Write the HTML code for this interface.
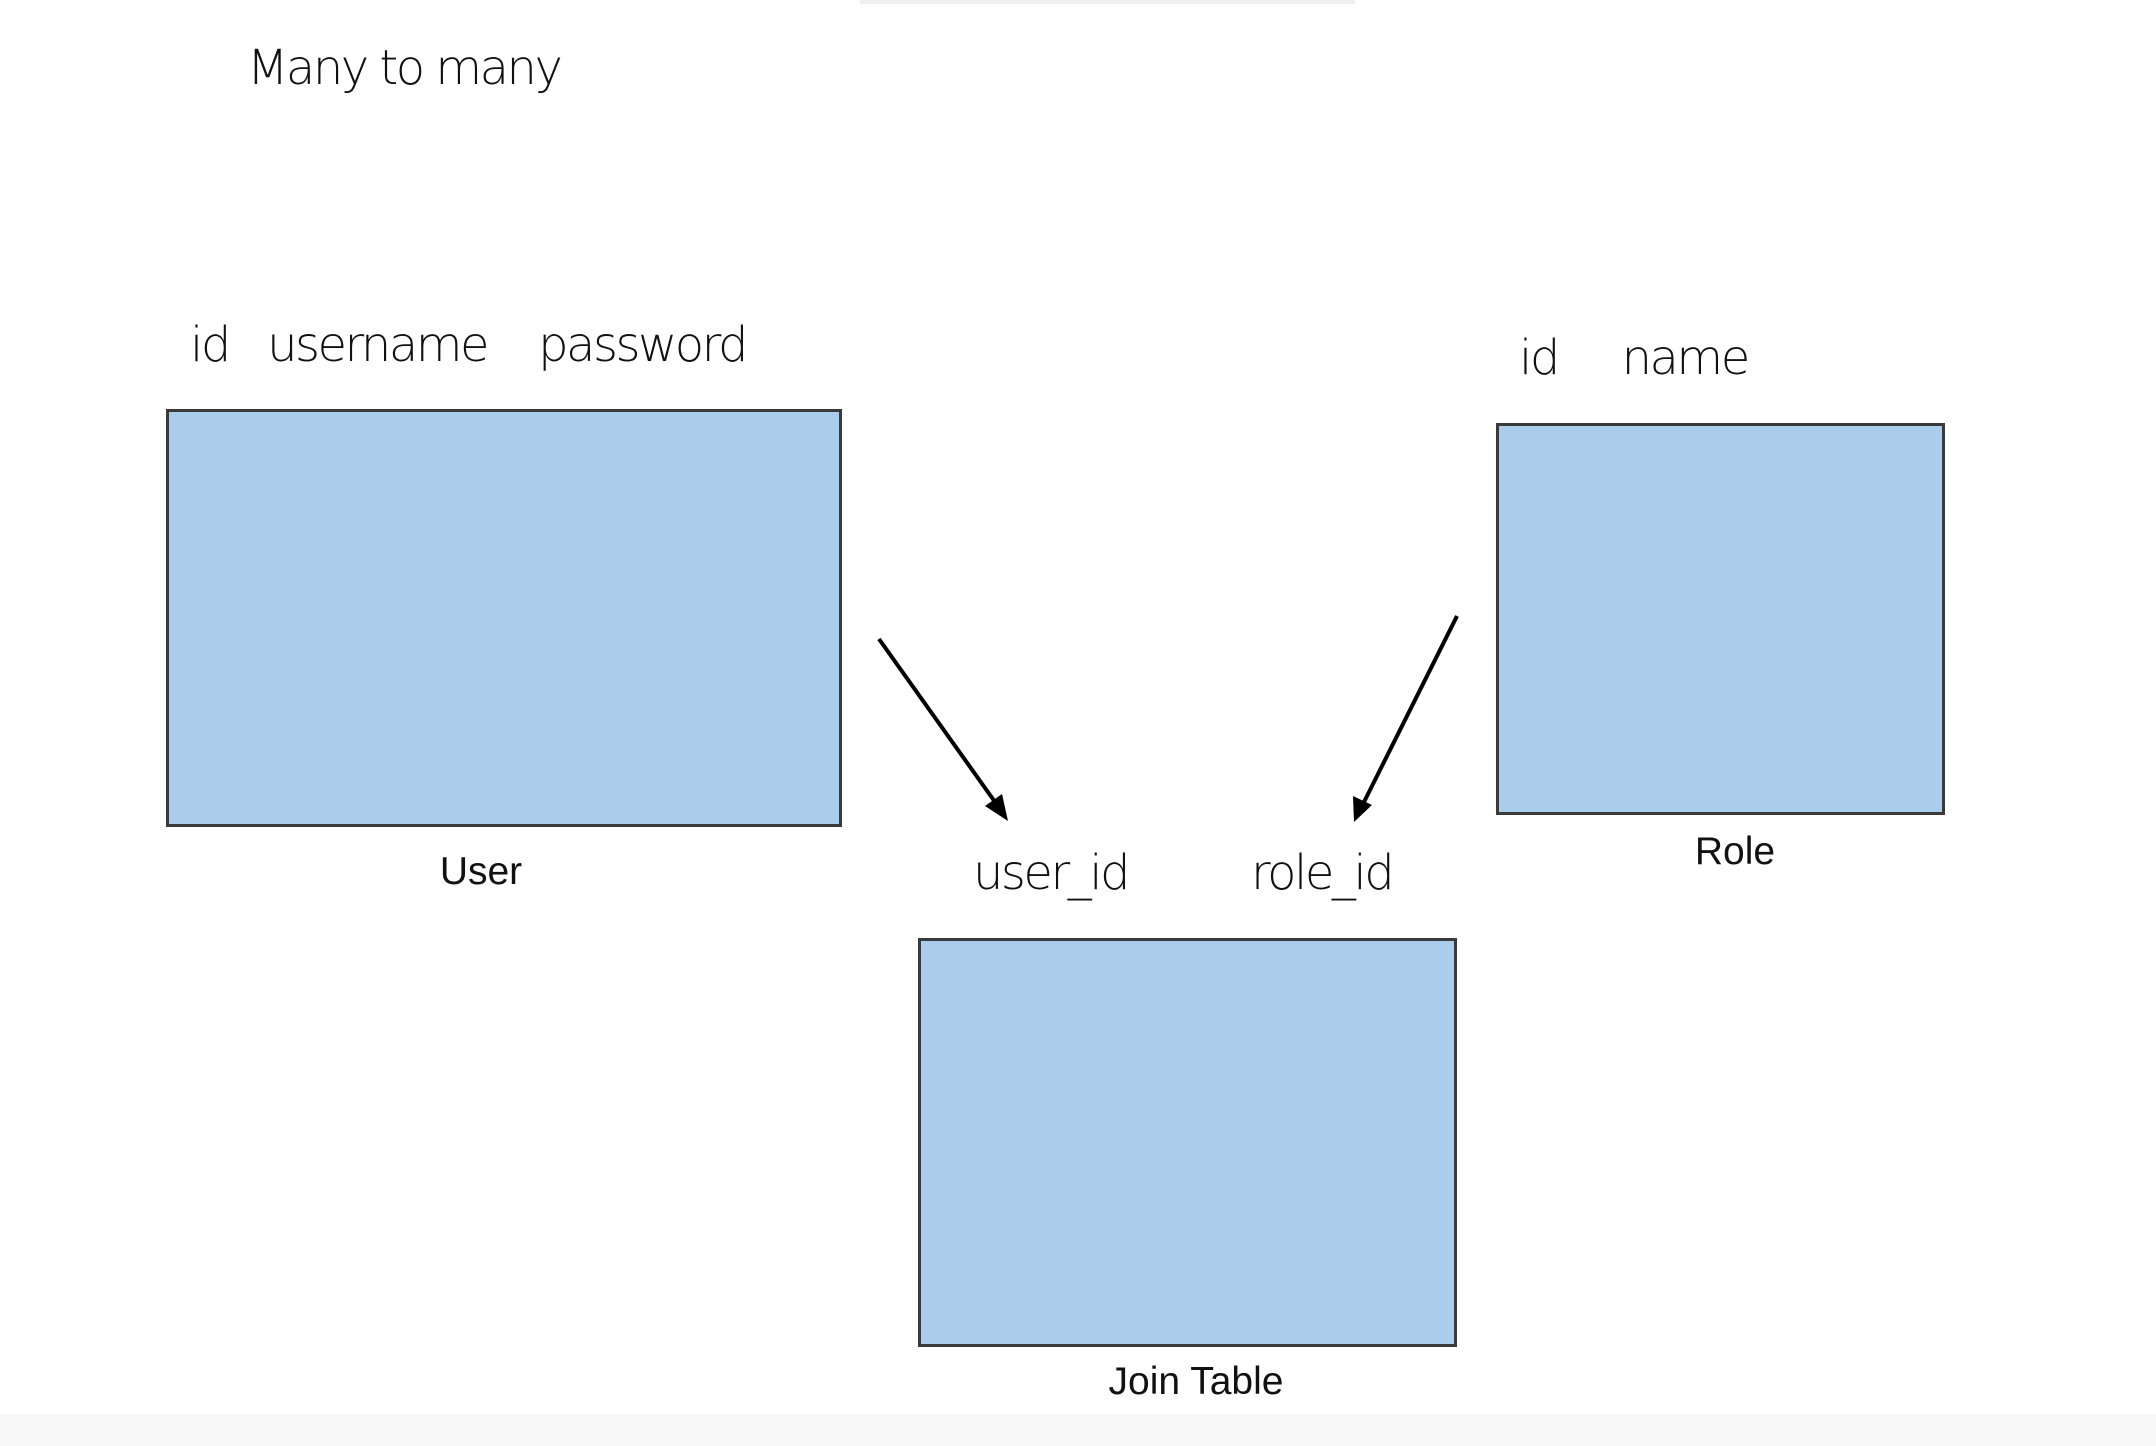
<!DOCTYPE html>
<html><head><meta charset="utf-8"><style>
html,body{margin:0;padding:0;background:#fff;}
body{width:2156px;height:1446px;position:relative;overflow:hidden;font-family:"Liberation Sans",sans-serif;}
.box{position:absolute;background:#abcdec;border:3px solid #3a3a3a;box-sizing:border-box;}
.t{position:absolute;white-space:nowrap;color:#111;}
.h{font-family:"DejaVu Sans","Liberation Sans",sans-serif;font-size:48px;font-weight:300;letter-spacing:-2.5px;}
.l{font-size:39px;transform:translateX(-50%);}
</style></head><body>
<div style="position:absolute;left:860px;top:0;width:495px;height:4px;background:#f0f0f0"></div>
<div style="position:absolute;left:0;top:1414px;width:2156px;height:32px;background:#f8f8f8"></div>
<div class="t h" style="left:247px;top:40px;">Many to many</div>
<div class="t h" style="left:190px;top:317px;">id&nbsp;&nbsp; username&nbsp;&nbsp;&nbsp; password</div>
<div class="t h" style="left:1519px;top:330px;">id&nbsp;&nbsp;&nbsp;&nbsp; name</div>
<div class="t h" style="left:973px;top:845px;">user_id</div>
<div class="t h" style="left:1251px;top:845px;">role_id</div>
<div class="box" style="left:166px;top:409px;width:676px;height:418px;"></div>
<div class="box" style="left:1496px;top:423px;width:449px;height:392px;"></div>
<div class="box" style="left:918px;top:938px;width:539px;height:409px;"></div>
<div class="t l" style="left:481px;top:850px;">User</div>
<div class="t l" style="left:1735px;top:830px;">Role</div>
<div class="t l" style="left:1196px;top:1360px;">Join Table</div>
<svg width="2156" height="1446" style="position:absolute;left:0;top:0">
<g stroke="#000" stroke-width="4" fill="none">
<line x1="879" y1="639" x2="1000" y2="809"/>
<line x1="1457" y1="616" x2="1361" y2="808"/>
</g>
<polygon points="1008,821 985,806 1002,794" fill="#000"/>
<polygon points="1354,822 1353,796 1372,805" fill="#000"/>
</svg>
</body></html>
